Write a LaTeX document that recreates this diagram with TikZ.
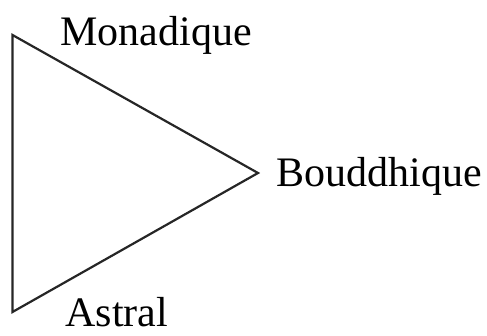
\documentclass[tikz,border=0pt]{standalone}
\usepackage{fontspec}
\setmainfont{Liberation Serif}
\usetikzlibrary{positioning}

\begin{document}
\begin{tikzpicture}[
    x=0.5pt, y=-0.5pt,
    plane/.style={font=\fontsize{21}{25}\selectfont, inner sep=0pt, anchor=base west},
    edge/.style={line width=1.1pt, line join=miter, color=black!85},
]
\useasboundingbox (0,0) rectangle (487,336);

\coordinate (top) at (12.5,35);
\coordinate (tip) at (258,173);
\coordinate (bot) at (12.5,312);

\node[plane] (monad) at (60,46) {Monadique};
\node[plane] (buddhi) at (276,187) {Bouddhique};
\node[plane] (astral) at (65,326) {Astral};

\draw[edge] (top) -- (tip) -- (bot) -- cycle;

\end{tikzpicture}
\end{document}
